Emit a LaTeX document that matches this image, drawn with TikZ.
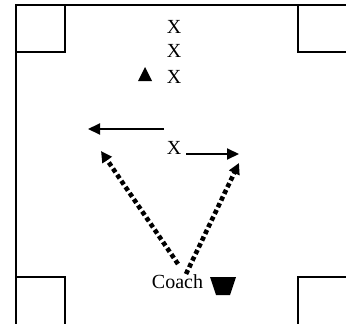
\documentclass[tikz,border=0pt]{standalone}
\usepackage{fontspec}
\setmainfont{Liberation Serif}
\usetikzlibrary{arrows.meta}
\tikzset{
  wall/.style={line width=1.5pt, line cap=rect},
  lbl/.style={inner sep=0pt, anchor=base, font=\fontsize{20}{22}\selectfont},
  run/.style={line width=2pt, -{Triangle[length=12pt,width=11pt]}},
  pass/.style={line width=4.6pt, dash pattern=on 4.4pt off 3pt, -{Triangle[length=11pt,width=11pt]}},
}
\begin{document}
\begin{tikzpicture}[x=1pt,y=-1pt]
\useasboundingbox (0,0) rectangle (346,324);
% field
\draw[wall] (346,5) -- (16,5) -- (16,324);
\draw[wall] (65,5) -- (65,52) -- (16,52);
\draw[wall] (298,5) -- (298,52) -- (346,52);
\draw[wall] (16,277) -- (65,277) -- (65,324);
\draw[wall] (298,324) -- (298,277) -- (346,277);
% players
\node[lbl] (x1) at (174,33.5) {X};
\node[lbl] (x2) at (174,57.5) {X};
\node[lbl] (x3) at (174,83.5) {X};
\node[lbl] (x4) at (174,154.5) {X};
\fill (138,81) -- (145,67) -- (152,81) -- cycle;
% coach
\node[lbl] (coach) at (177.5,288.5) {Coach};
\fill (210,277) -- (236,277) -- (230,295) -- (216,295) -- cycle;
% arrows
\coordinate (la) at (164,129);
\coordinate (lb) at (88,129);
\coordinate (ra) at (186,154);
\coordinate (rb) at (239,154);
\draw[run] (la) -- (lb);
\draw[run] (ra) -- (rb);
\coordinate (p1s) at (178,264);
\coordinate (p1e) at (101,151);
\coordinate (p2s) at (186,274);
\coordinate (p2e) at (239,163);
\draw[pass] (p1s) -- (p1e);
\draw[pass] (p2s) -- (p2e);
\end{tikzpicture}
\end{document}
